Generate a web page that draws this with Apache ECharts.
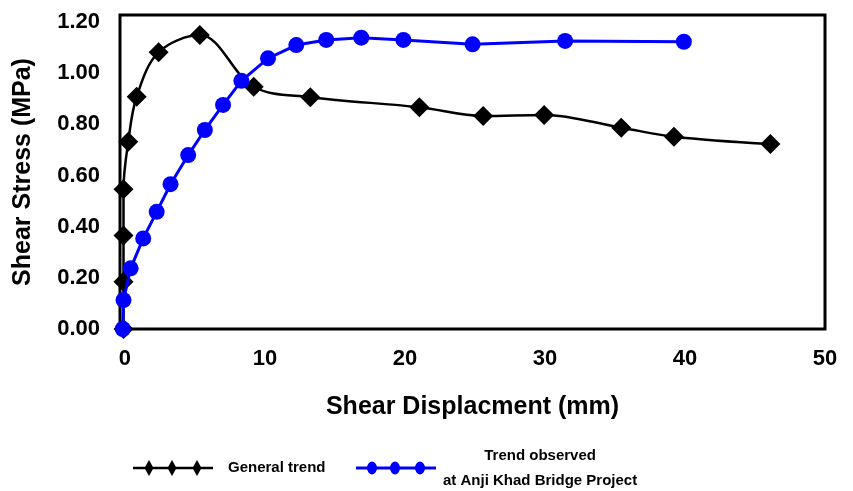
<!DOCTYPE html>
<html>
<head>
<meta charset="utf-8">
<script src="https://cdn.jsdelivr.net/npm/echarts@6/dist/echarts.min.js"></script>
<style>html,body{margin:0;padding:0;background:#fff}#c{width:853px;height:491px}</style>
</head>
<body>
<div id="c"></div>
<script>
// Data
const generalX = [-0.1, -0.1, -0.1, -0.1, 0.24, 0.84, 2.41, 5.35, 9.2, 13.24, 21.03, 25.59, 29.94, 35.45, 39.21, 46.1];
const generalY = [0.0, 0.185, 0.366, 0.546, 0.732, 0.908, 1.082, 1.149, 0.947, 0.906, 0.867, 0.833, 0.837, 0.787, 0.752, 0.723];
const anjiX = [-0.15, -0.1, 0.41, 1.31, 2.27, 3.26, 4.52, 5.71, 7.01, 8.32, 10.22, 12.24, 14.38, 16.88, 19.89, 24.83, 31.44, 39.92];
const anjiY = [0.0, 0.113, 0.237, 0.354, 0.458, 0.566, 0.680, 0.778, 0.876, 0.970, 1.058, 1.110, 1.130, 1.139, 1.130, 1.113, 1.126, 1.123];
const xTicks = [0, 10, 20, 30, 40, 50];
const yTicks = [0, 0.2, 0.4, 0.6, 0.8, 1.0, 1.2];
const seriesNames = ['General trend', 'Trend observed\nat Anji Khad Bridge Project'];

const FONT = '"Liberation Sans", Arial, sans-serif';
const pair = (xs, ys) => xs.map((x, i) => [x, ys[i]]);

const blackIcon = 'path://M0 6.75 L80 6.75 L80 9.25 L0 9.25 Z ' +
  'M16 0 L20.5 8 L16 16 L11.5 8 Z M39 0 L43.5 8 L39 16 L34.5 8 Z M64 0 L68.5 8 L64 16 L59.5 8 Z';
const blueIcon = 'path://M0 5 L80 5 L80 8 L0 8 Z ' +
  'M11 6.5 A5 6.5 0 1 1 21 6.5 A5 6.5 0 1 1 11 6.5 Z ' +
  'M34 6.5 A5 6.5 0 1 1 44 6.5 A5 6.5 0 1 1 34 6.5 Z ' +
  'M59 6.5 A5 6.5 0 1 1 69 6.5 A5 6.5 0 1 1 59 6.5 Z';

const chart = echarts.init(document.getElementById('c'), null, {renderer: 'canvas'});
chart.setOption({
  animation: false,
  backgroundColor: '#fff',
  textStyle: {fontFamily: FONT},
  grid: {left: 120, right: 28, top: 15, bottom: 162, show: true, borderColor: '#000', borderWidth: 3, backgroundColor: 'transparent'},
  legend: [
    {
      data: [seriesNames[0]], left: 133, top: 460, padding: 0,
      itemWidth: 80, itemHeight: 16, icon: blackIcon,
      itemStyle: {borderWidth: 0},
      textStyle: {fontFamily: FONT, fontWeight: 'bold', fontSize: 15, color: '#000', padding: [0, 0, 0, 10]}
    },
    {
      data: [seriesNames[1]], left: 356, top: 448, padding: 0,
      itemWidth: 80, itemHeight: 13, icon: blueIcon,
      itemStyle: {borderWidth: 0},
      formatter: function (name) {
        return name.split('\n').map(s => '{c|' + s + '}').join('\n');
      },
      textStyle: {
        fontFamily: FONT, fontWeight: 'bold', fontSize: 15, color: '#000', padding: [0, 0, 0, 2],
        rich: {c: {fontFamily: FONT, fontWeight: 'bold', fontSize: 15, color: '#000', align: 'center', lineHeight: 25}}
      }
    }
  ],
  xAxis: {
    type: 'value', min: -0.35, max: 50,
    name: 'Shear Displacment (mm)', nameLocation: 'middle', nameGap: 66,
    nameTextStyle: {fontFamily: FONT, fontWeight: 'bold', fontSize: 25, color: '#000'},
    axisLine: {show: false}, axisTick: {show: false}, splitLine: {show: false},
    axisLabel: {customValues: xTicks, fontFamily: FONT, fontWeight: 'bold', fontSize: 22, color: '#000', margin: 19,
      showMinLabel: true, showMaxLabel: true, formatter: v => String(Math.round(v))}
  },
  yAxis: {
    type: 'value', min: 0, max: 1.2275,
    name: 'Shear Stress (MPa)', nameLocation: 'middle', nameGap: 84, nameRotate: 90,
    nameTextStyle: {fontFamily: FONT, fontWeight: 'bold', fontSize: 25, color: '#000'},
    axisLine: {show: false}, axisTick: {show: false}, splitLine: {show: false},
    axisLabel: {customValues: yTicks, fontFamily: FONT, fontWeight: 'bold', fontSize: 22, color: '#000', margin: 20,
      formatter: v => v.toFixed(2)}
  },
  series: [
    {
      name: seriesNames[0], type: 'line', data: pair(generalX, generalY),
      symbol: 'diamond', symbolSize: 20, smooth: 0.35, clip: false,
      itemStyle: {color: '#000', borderWidth: 0},
      lineStyle: {color: '#000', width: 2.5}, z: 2
    },
    {
      name: seriesNames[1], type: 'line', data: pair(anjiX, anjiY),
      symbol: 'circle', symbolSize: 16, clip: false,
      itemStyle: {color: '#0000ff', borderWidth: 0},
      lineStyle: {color: '#0000ff', width: 3}, z: 3
    }
  ]
});
</script>
</body>
</html>
